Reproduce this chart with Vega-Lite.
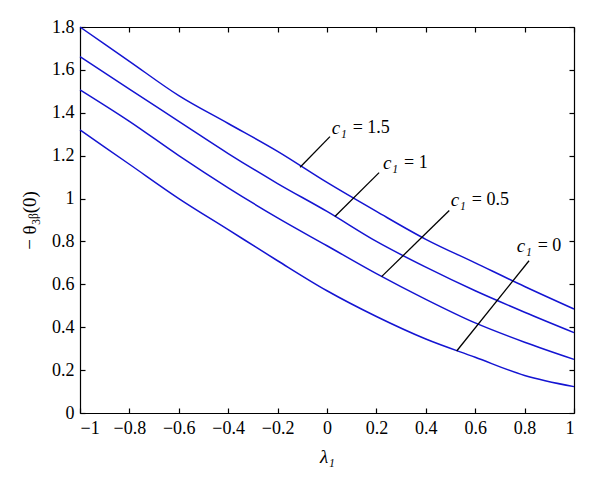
{
  "$schema": "https://vega.github.io/schema/vega-lite/v6.json",
  "width": 494,
  "height": 386,
  "autosize": "none",
  "padding": {"left": 80, "top": 27, "right": 26, "bottom": 79},
  "background": "white",
  "config": {
    "view": {"stroke": null},
    "axis": {
      "grid": false,
      "domainColor": "black",
      "domainWidth": 1.2,
      "tickColor": "black",
      "tickWidth": 1.2,
      "tickSize": -5,
      "labelColor": "black",
      "labelFont": "Liberation Serif",
      "labelFontSize": 18,
      "titleFont": "Liberation Serif",
      "titleColor": "black",
      "titleFontSize": 19,
      "titleFontWeight": "normal"
    }
  },
  "datasets": {
    "curves": [
      {"lam": -1, "c": "1.5", "val": 1.8},
      {"lam": -0.8, "c": "1.5", "val": 1.64},
      {"lam": -0.6, "c": "1.5", "val": 1.48},
      {"lam": -0.4, "c": "1.5", "val": 1.35},
      {"lam": -0.2, "c": "1.5", "val": 1.22},
      {"lam": 0, "c": "1.5", "val": 1.075},
      {"lam": 0.2, "c": "1.5", "val": 0.94},
      {"lam": 0.4, "c": "1.5", "val": 0.81},
      {"lam": 0.6, "c": "1.5", "val": 0.70},
      {"lam": 0.8, "c": "1.5", "val": 0.59},
      {"lam": 1, "c": "1.5", "val": 0.485},
      {"lam": -1, "c": "1", "val": 1.662},
      {"lam": -0.8, "c": "1", "val": 1.51},
      {"lam": -0.6, "c": "1", "val": 1.36},
      {"lam": -0.4, "c": "1", "val": 1.21},
      {"lam": -0.2, "c": "1", "val": 1.07},
      {"lam": 0, "c": "1", "val": 0.94},
      {"lam": 0.2, "c": "1", "val": 0.80},
      {"lam": 0.4, "c": "1", "val": 0.68},
      {"lam": 0.6, "c": "1", "val": 0.57},
      {"lam": 0.8, "c": "1", "val": 0.47},
      {"lam": 1, "c": "1", "val": 0.375},
      {"lam": -1, "c": "0.5", "val": 1.507},
      {"lam": -0.8, "c": "0.5", "val": 1.36},
      {"lam": -0.6, "c": "0.5", "val": 1.20},
      {"lam": -0.4, "c": "0.5", "val": 1.05},
      {"lam": -0.2, "c": "0.5", "val": 0.91},
      {"lam": 0, "c": "0.5", "val": 0.78},
      {"lam": 0.2, "c": "0.5", "val": 0.65},
      {"lam": 0.4, "c": "0.5", "val": 0.53},
      {"lam": 0.6, "c": "0.5", "val": 0.42},
      {"lam": 0.8, "c": "0.5", "val": 0.33},
      {"lam": 1, "c": "0.5", "val": 0.25},
      {"lam": -1, "c": "0", "val": 1.32},
      {"lam": -0.8, "c": "0", "val": 1.16},
      {"lam": -0.6, "c": "0", "val": 1.00},
      {"lam": -0.4, "c": "0", "val": 0.855},
      {"lam": -0.2, "c": "0", "val": 0.71},
      {"lam": 0, "c": "0", "val": 0.57},
      {"lam": 0.2, "c": "0", "val": 0.45},
      {"lam": 0.4, "c": "0", "val": 0.345},
      {"lam": 0.6, "c": "0", "val": 0.26},
      {"lam": 0.8, "c": "0", "val": 0.175},
      {"lam": 1, "c": "0", "val": 0.123}
    ],
    "notes": [
      {"x1": -0.109, "y1": 1.146, "x2": 0.012, "y2": 1.289, "tx": 0.019, "ty": 1.329, "sym": "c₁", "eq": "= 1.5"},
      {"x1": 0.032, "y1": 0.916, "x2": 0.211, "y2": 1.121, "tx": 0.227, "ty": 1.166, "sym": "c₁", "eq": "= 1"},
      {"x1": 0.221, "y1": 0.636, "x2": 0.495, "y2": 0.944, "tx": 0.501, "ty": 0.993, "sym": "c₁", "eq": "= 0.5"},
      {"x1": 0.525, "y1": 0.289, "x2": 0.818, "y2": 0.71, "tx": 0.768, "ty": 0.779, "sym": "c₁", "eq": "= 0"}
    ]
  },
  "layer": [
    {
      "data": {"name": "curves"},
      "mark": {"type": "line", "color": "#1414d2", "strokeWidth": 1.5, "interpolate": "monotone"},
      "encoding": {
        "x": {
          "field": "lam", "type": "quantitative",
          "scale": {"domain": [-1, 1], "nice": false, "zero": false},
          "axis": {"orient": "bottom", "values": [-1, -0.8, -0.6, -0.4, -0.2, 0, 0.2, 0.4, 0.6, 0.8, 1], "format": "~g", "labelPadding": 11, "title": "λ₁", "titleFontStyle": "italic", "titlePadding": 10}
        },
        "y": {
          "field": "val", "type": "quantitative",
          "scale": {"domain": [0, 1.8], "nice": false},
          "axis": {"orient": "left", "values": [0, 0.2, 0.4, 0.6, 0.8, 1, 1.2, 1.4, 1.6, 1.8], "format": "~g", "labelPadding": 11, "title": "− θ₃ᵦ(0)", "titlePadding": 12}
        },
        "detail": {"field": "c", "type": "nominal"}
      }
    },
    {
      "data": {"name": "notes"},
      "mark": {"type": "rule", "color": "black", "strokeWidth": 1.3},
      "encoding": {
        "x": {"field": "x1", "type": "quantitative", "axis": {"orient": "top", "values": [-1, -0.8, -0.6, -0.4, -0.2, 0, 0.2, 0.4, 0.6, 0.8, 1], "labels": false, "title": null}},
        "y": {"field": "y1", "type": "quantitative", "axis": {"orient": "right", "values": [0, 0.2, 0.4, 0.6, 0.8, 1, 1.2, 1.4, 1.6, 1.8], "labels": false, "title": null}},
        "x2": {"field": "x2"},
        "y2": {"field": "y2"}
      }
    },
    {
      "data": {"name": "notes"},
      "mark": {"type": "text", "align": "left", "baseline": "middle", "font": "Liberation Serif", "fontSize": 19, "fontStyle": "italic", "color": "black"},
      "encoding": {
        "x": {"field": "tx", "type": "quantitative", "axis": null},
        "y": {"field": "ty", "type": "quantitative", "axis": null},
        "text": {"field": "sym"}
      }
    },
    {
      "data": {"name": "notes"},
      "mark": {"type": "text", "align": "left", "baseline": "middle", "font": "Liberation Serif", "fontSize": 18, "color": "black", "dx": 21},
      "encoding": {
        "x": {"field": "tx", "type": "quantitative", "axis": null},
        "y": {"field": "ty", "type": "quantitative", "axis": null},
        "text": {"field": "eq"}
      }
    }
  ]
}
